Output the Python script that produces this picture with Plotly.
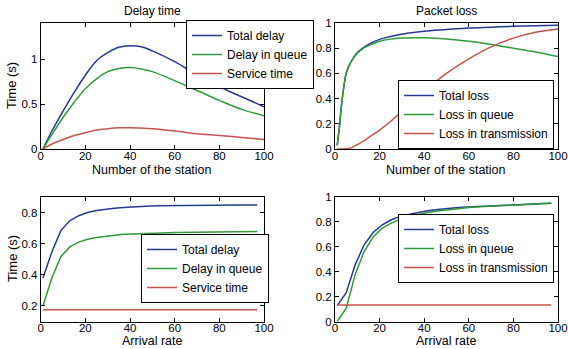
import plotly.graph_objects as go

# ---------------- data ----------------
station_delay_x = [1, 5, 10, 15, 20, 25, 30, 35, 40, 45, 50, 60, 70, 80, 90, 100]
total_delay = [0.0, 0.20, 0.42, 0.63, 0.82, 0.98, 1.07, 1.13, 1.147, 1.135, 1.09, 0.97, 0.82, 0.69, 0.58, 0.47]
queue_delay = [0.0, 0.16, 0.35, 0.52, 0.67, 0.78, 0.86, 0.895, 0.905, 0.89, 0.86, 0.76, 0.65, 0.54, 0.44, 0.37]
service_time = [0.0, 0.056, 0.105, 0.15, 0.18, 0.21, 0.225, 0.235, 0.237, 0.232, 0.225, 0.20, 0.17, 0.15, 0.128, 0.105]

station_loss_x = [1, 2, 3, 4, 5, 6, 8, 10, 12, 15, 20, 25, 30, 35, 40, 50, 60, 70, 80, 90, 100]
total_loss = [0.03, 0.18, 0.36, 0.50, 0.60, 0.65, 0.715, 0.765, 0.795, 0.83, 0.87, 0.893, 0.91, 0.924, 0.935, 0.948, 0.96, 0.967, 0.974, 0.978, 0.982]
queue_loss = [0.03, 0.18, 0.36, 0.50, 0.60, 0.65, 0.715, 0.76, 0.79, 0.82, 0.855, 0.872, 0.88, 0.882, 0.882, 0.873, 0.855, 0.83, 0.80, 0.77, 0.733]
trans_loss = [0.0, 0.0, 0.0, 0.001, 0.003, 0.005, 0.015, 0.035, 0.055, 0.09, 0.15, 0.22, 0.30, 0.385, 0.46, 0.60, 0.715, 0.81, 0.88, 0.926, 0.953]

arrival_x = [1, 5, 9, 13, 17, 21, 25, 29, 33, 37, 41, 45, 49, 53, 57, 61, 65, 69, 73, 77, 81, 85, 89, 93, 97]
ar_total_delay = [0.379, 0.547, 0.684, 0.747, 0.78, 0.80, 0.813, 0.822, 0.828, 0.833, 0.837, 0.84, 0.842, 0.844, 0.845,
                  0.846, 0.847, 0.847, 0.848, 0.848, 0.848, 0.849, 0.849, 0.849, 0.849]
ar_queue_delay = [0.20, 0.379, 0.516, 0.579, 0.61, 0.628, 0.64, 0.648, 0.655, 0.66, 0.663, 0.666, 0.668, 0.67, 0.671,
                  0.672, 0.673, 0.674, 0.675, 0.676, 0.677, 0.677, 0.678, 0.678, 0.679]
ar_service_time = [0.175] * 25

ar_total_loss = [0.13, 0.23, 0.453, 0.614, 0.713, 0.775, 0.815, 0.842, 0.86, 0.875, 0.887, 0.897, 0.906, 0.912, 0.917,
                 0.921, 0.925, 0.929, 0.933, 0.936, 0.938, 0.941, 0.944, 0.947, 0.949]
ar_queue_loss = [0.0, 0.105, 0.373, 0.56, 0.676, 0.748, 0.788, 0.82, 0.842, 0.86, 0.874, 0.886, 0.895, 0.904, 0.912,
                 0.917, 0.922, 0.926, 0.93, 0.934, 0.938, 0.941, 0.944, 0.947, 0.949]
ar_trans_loss = [0.133] * 25

x_ticks = [0, 20, 40, 60, 80, 100]

# ---------------- style ----------------
BLUE = "#26388f"
GREEN = "#2f9a3a"
RED = "#c8524c"
FONT = "Liberation Sans, Arial, sans-serif"
LW = 1.5

fig = go.Figure()


def add(x, y, name, color, xa, ya, legend, shape):
    fig.add_trace(go.Scatter(x=x, y=y, name=name, mode="lines",
                             line=dict(color=color, width=LW, shape=shape),
                             xaxis=xa, yaxis=ya, legend=legend))


add(station_delay_x, total_delay, "Total delay", BLUE, "x", "y", "legend", "spline")
add(station_delay_x, queue_delay, "Delay in queue", GREEN, "x", "y", "legend", "spline")
add(station_delay_x, service_time, "Service time", RED, "x", "y", "legend", "spline")

add(station_loss_x, total_loss, "Total loss", BLUE, "x2", "y2", "legend2", "spline")
add(station_loss_x, queue_loss, "Loss in queue", GREEN, "x2", "y2", "legend2", "spline")
add(station_loss_x, trans_loss, "Loss in transmission", RED, "x2", "y2", "legend2", "spline")

add(arrival_x, ar_total_delay, "Total delay", BLUE, "x3", "y3", "legend3", "linear")
add(arrival_x, ar_queue_delay, "Delay in queue", GREEN, "x3", "y3", "legend3", "linear")
add(arrival_x, ar_service_time, "Service time", RED, "x3", "y3", "legend3", "linear")

add(arrival_x, ar_total_loss, "Total loss", BLUE, "x4", "y4", "legend4", "linear")
add(arrival_x, ar_queue_loss, "Loss in queue", GREEN, "x4", "y4", "legend4", "linear")
add(arrival_x, ar_trans_loss, "Loss in transmission", RED, "x4", "y4", "legend4", "linear")

W, H = 568, 349


def fx(px):
    return px / W


def fy(py):
    return 1 - py / H


axis_common = dict(showline=True, linecolor="black", linewidth=1, mirror="ticks",
                   ticks="inside", ticklen=4, tickcolor="black", showgrid=False,
                   zeroline=False, automargin=False, ticklabeloverflow="allow",
                   tickfont=dict(family=FONT, size=11.5, color="black"))
xaxis_common = dict(axis_common, ticklabelstandoff=-4)

top_y = [fy(149), fy(23)]
bot_y = [fy(321.5), fy(197)]
left_x = [fx(40.7), fx(264)]
right_x = [fx(335), fx(558)]

fig.update_layout(
    width=W, height=H, margin=dict(l=0, r=0, t=0, b=0, autoexpand=False),
    paper_bgcolor="white", plot_bgcolor="white",
    font=dict(family=FONT, size=12, color="black"),
    xaxis=dict(domain=left_x, anchor="y", range=[0, 100], tickvals=x_ticks, **xaxis_common),
    yaxis=dict(domain=top_y, anchor="x", range=[0, 1.4], tickvals=[0, 0.5, 1], **axis_common),
    xaxis2=dict(domain=right_x, anchor="y2", range=[0, 100], tickvals=x_ticks, **xaxis_common),
    yaxis2=dict(domain=top_y, anchor="x2", range=[0, 1], tickvals=[0, 0.2, 0.4, 0.6, 0.8, 1], **axis_common),
    xaxis3=dict(domain=left_x, anchor="y3", range=[0, 100], tickvals=x_ticks, **xaxis_common),
    yaxis3=dict(domain=bot_y, anchor="x3", range=[0.1, 0.9], tickvals=[0.2, 0.4, 0.6, 0.8], **axis_common),
    xaxis4=dict(domain=right_x, anchor="y4", range=[0, 100], tickvals=x_ticks, **xaxis_common),
    yaxis4=dict(domain=bot_y, anchor="x4", range=[0, 1], tickvals=[0, 0.2, 0.4, 0.6, 0.8, 1], **axis_common),
)

leg_common = dict(xanchor="left", yanchor="top", bgcolor="white", bordercolor="black", borderwidth=1,
                  font=dict(family=FONT, size=12, color="black"), tracegroupgap=0, itemwidth=30,
                  itemclick=False, itemdoubleclick=False)
fig.update_layout(
    showlegend=True,
    legend=dict(x=fx(186), y=fy(20), **leg_common),
    legend2=dict(x=fx(398), y=fy(80), **leg_common),
    legend3=dict(x=fx(141), y=fy(234), **leg_common),
    legend4=dict(x=fx(398), y=fy(214), **leg_common),
)


def label(text, px, py, size, angle=0):
    fig.add_annotation(text=text, x=fx(px), y=fy(py), xref="paper", yref="paper",
                       xanchor="center", yanchor="middle", textangle=angle,
                       showarrow=False, font=dict(family=FONT, size=size, color="black"))


label("Delay time", 152, 11, 12)
label("Packet loss", 446, 11, 12)
label("Number of the station", 152, 170, 12.5)
label("Number of the station", 446, 170, 12.5)
label("Arrival rate", 152, 341, 12.5)
label("Arrival rate", 446, 341, 12.5)
label("Time (s)", 12, 86, 13, -90)
label("Time (s)", 12, 259, 13, -90)

fig.write_html("out.html", config={"displayModeBar": False},
               post_script="document.body.style.margin='0';")
